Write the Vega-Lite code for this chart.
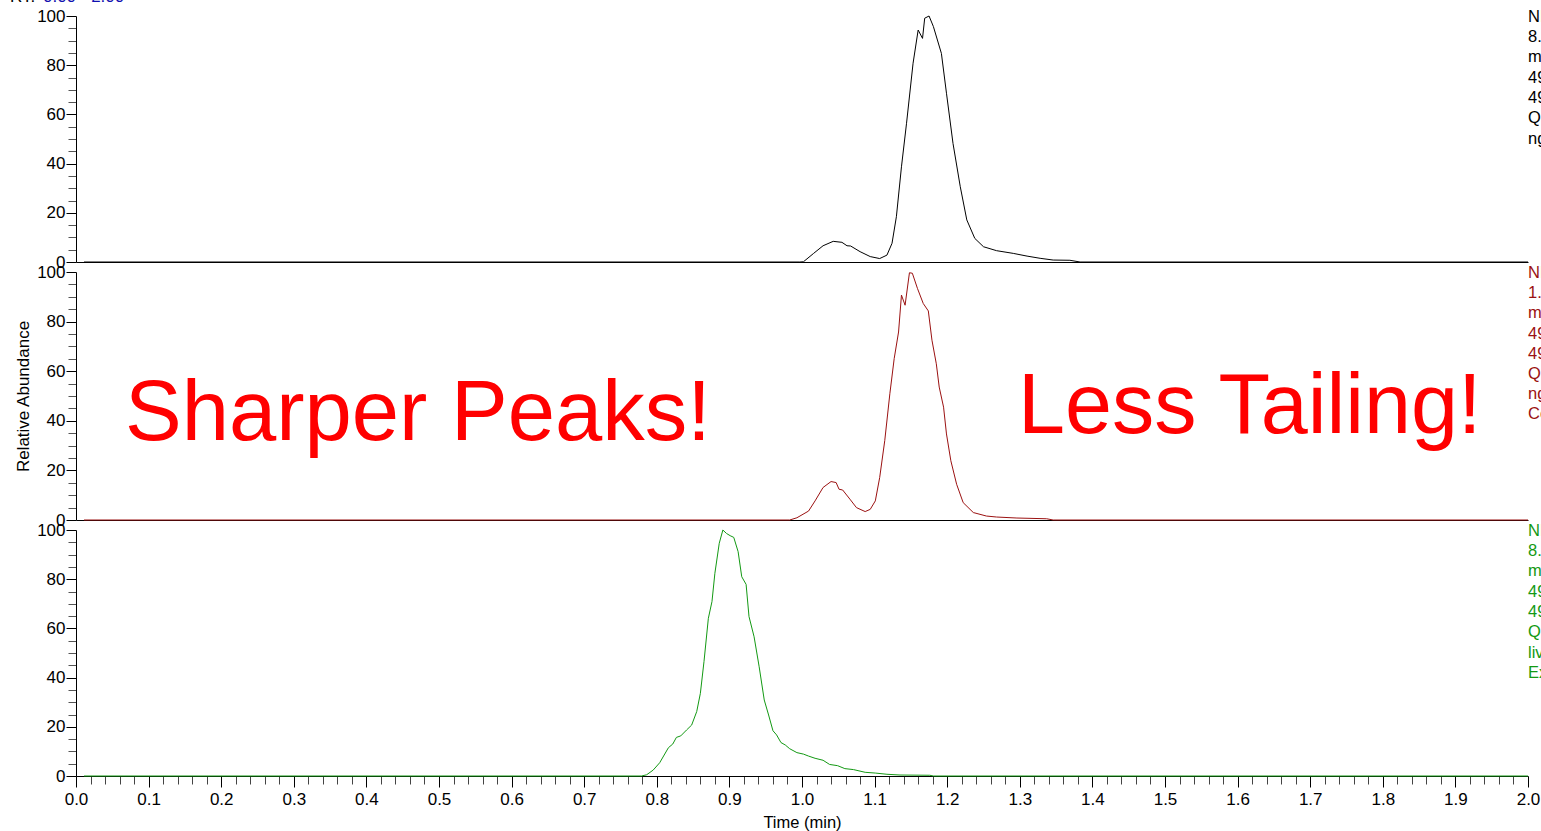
{
  "$schema": "https://vega.github.io/schema/vega-lite/v6.json",
  "padding": {"left": 10, "top": -13, "right": 0, "bottom": 0},
  "background": "white",
  "spacing": 10,
  "bounds": "flush",
  "config": {
    "view": {"stroke": null},
    "font": "Liberation Sans",
    "axis": {
      "labelFont": "Liberation Sans", "titleFont": "Liberation Sans",
      "labelColor": "#000", "titleColor": "#000", "domainColor": "#000",
      "grid": false, "labelFontSize": 17, "titleFontSize": 16.5,
      "titleFontWeight": "normal", "labelFlush": false, "labelOverlap": false
    }
  },
  "datasets": {
    "top": [
      {"t": 0.011, "v": 0}, {"t": 0.5, "v": 0}, {"t": 0.997, "v": 0}, {"t": 1.002, "v": 0.1},
      {"t": 1.016, "v": 3.5}, {"t": 1.029, "v": 6.6}, {"t": 1.043, "v": 8.4}, {"t": 1.055, "v": 8.0},
      {"t": 1.062, "v": 6.6}, {"t": 1.067, "v": 6.5}, {"t": 1.080, "v": 4.2}, {"t": 1.094, "v": 2.2},
      {"t": 1.107, "v": 1.4}, {"t": 1.117, "v": 2.8}, {"t": 1.124, "v": 7.6}, {"t": 1.130, "v": 18.4},
      {"t": 1.137, "v": 38.7}, {"t": 1.144, "v": 56.4}, {"t": 1.153, "v": 80.8}, {"t": 1.160, "v": 94.3},
      {"t": 1.166, "v": 90.9}, {"t": 1.169, "v": 99.1}, {"t": 1.175, "v": 100}, {"t": 1.181, "v": 95.7},
      {"t": 1.192, "v": 84.8}, {"t": 1.199, "v": 68.6}, {"t": 1.208, "v": 48.2}, {"t": 1.218, "v": 30.6},
      {"t": 1.227, "v": 17.1}, {"t": 1.238, "v": 9.6}, {"t": 1.250, "v": 6.2}, {"t": 1.268, "v": 4.6},
      {"t": 1.291, "v": 3.5}, {"t": 1.310, "v": 2.4}, {"t": 1.328, "v": 1.5}, {"t": 1.346, "v": 0.8},
      {"t": 1.369, "v": 0.7}, {"t": 1.383, "v": 0}, {"t": 2.0, "v": 0}
    ],
    "mid": [
      {"t": 0.011, "v": 0}, {"t": 0.5, "v": 0}, {"t": 0.983, "v": 0}, {"t": 0.993, "v": 0.9},
      {"t": 1.009, "v": 3.6}, {"t": 1.018, "v": 7.7}, {"t": 1.029, "v": 13.1}, {"t": 1.040, "v": 15.5},
      {"t": 1.047, "v": 15.1}, {"t": 1.051, "v": 12.4}, {"t": 1.056, "v": 12.1}, {"t": 1.066, "v": 8.4},
      {"t": 1.075, "v": 5.0}, {"t": 1.087, "v": 3.4}, {"t": 1.094, "v": 4.3}, {"t": 1.101, "v": 7.7},
      {"t": 1.107, "v": 17.1}, {"t": 1.114, "v": 32}, {"t": 1.121, "v": 50.9}, {"t": 1.127, "v": 65.1},
      {"t": 1.133, "v": 75.8}, {"t": 1.137, "v": 90.7}, {"t": 1.142, "v": 86.6}, {"t": 1.148, "v": 99.7},
      {"t": 1.152, "v": 99.5}, {"t": 1.159, "v": 93.4}, {"t": 1.167, "v": 87.3}, {"t": 1.174, "v": 84.3},
      {"t": 1.179, "v": 72.5}, {"t": 1.185, "v": 63.0}, {"t": 1.189, "v": 53.6}, {"t": 1.195, "v": 45.5},
      {"t": 1.199, "v": 34.7}, {"t": 1.205, "v": 23.9}, {"t": 1.213, "v": 14.4}, {"t": 1.222, "v": 7.0},
      {"t": 1.236, "v": 3.0}, {"t": 1.254, "v": 1.6}, {"t": 1.268, "v": 1.2}, {"t": 1.296, "v": 0.8},
      {"t": 1.337, "v": 0.5}, {"t": 1.346, "v": 0}, {"t": 2.0, "v": 0}
    ],
    "bot": [
      {"t": 0.011, "v": 0}, {"t": 0.5, "v": 0}, {"t": 0.779, "v": 0}, {"t": 0.786, "v": 0.5},
      {"t": 0.795, "v": 2.4}, {"t": 0.804, "v": 5.4}, {"t": 0.816, "v": 11.5}, {"t": 0.822, "v": 13.0},
      {"t": 0.827, "v": 15.7}, {"t": 0.833, "v": 16.3}, {"t": 0.841, "v": 18.7}, {"t": 0.848, "v": 20.7},
      {"t": 0.855, "v": 26.2}, {"t": 0.860, "v": 33.6}, {"t": 0.865, "v": 46.5}, {"t": 0.871, "v": 64.1},
      {"t": 0.876, "v": 70.9}, {"t": 0.880, "v": 82.4}, {"t": 0.886, "v": 94.6}, {"t": 0.891, "v": 100},
      {"t": 0.896, "v": 98.6}, {"t": 0.901, "v": 97.7}, {"t": 0.906, "v": 97.0}, {"t": 0.912, "v": 91.2},
      {"t": 0.917, "v": 81.0}, {"t": 0.923, "v": 77.9}, {"t": 0.927, "v": 64.8}, {"t": 0.934, "v": 56.6},
      {"t": 0.941, "v": 44.4}, {"t": 0.948, "v": 30.9}, {"t": 0.954, "v": 24.8}, {"t": 0.960, "v": 18.4},
      {"t": 0.965, "v": 16.7}, {"t": 0.971, "v": 13.6}, {"t": 0.977, "v": 12.6}, {"t": 0.983, "v": 11.1},
      {"t": 0.993, "v": 9.5}, {"t": 1.002, "v": 8.9}, {"t": 1.009, "v": 8.1}, {"t": 1.018, "v": 7.2},
      {"t": 1.029, "v": 6.4}, {"t": 1.038, "v": 4.7}, {"t": 1.049, "v": 4.2}, {"t": 1.059, "v": 3.0},
      {"t": 1.071, "v": 2.6}, {"t": 1.087, "v": 1.5}, {"t": 1.101, "v": 1.2}, {"t": 1.117, "v": 0.7},
      {"t": 1.135, "v": 0.4}, {"t": 1.176, "v": 0.3}, {"t": 1.181, "v": 0}, {"t": 2.0, "v": 0}
    ]
  },
  "vconcat": [
    {
      "width": 1452, "height": 246,
      "layer": [
        {
          "data": {"name": "top"},
          "mark": {"type": "line", "color": "#000000", "strokeWidth": 1},
          "encoding": {
            "x": {"field": "t", "type": "quantitative", "scale": {"domain": [0, 2], "nice": false},
                  "axis": {"title": null, "labels": false, "ticks": false, "domain": true}},
            "y": {"field": "v", "type": "quantitative", "scale": {"domain": [0, 100], "nice": false},
                  "axis": {"title": null, "tickCount": 50, "labelOverlap": false,
                           "values": [0,5,10,15,20,25,30,35,40,45,50,55,60,65,70,75,80,85,90,95,100],
                           "labelExpr": "datum.value % 20 === 0 ? datum.value : ''",
                           "tickSize": {"condition": {"test": "datum.value % 20 === 0", "value": 10}, "value": 8},
                           "tickColor": {"condition": {"test": "datum.value % 20 === 0", "value": "#000"}, "value": "#555"},
                           "labelPadding": 1}}
          }
        },
        {
          "data": {"values": [{"lines": ["NL:", "8.12E5", "m/z=", "494.25-", "494.35", "QE_MRM", "ng/mL"]}]},
          "mark": {"type": "text", "align": "left", "baseline": "alphabetic", "fontSize": 16.5, "lineHeight": 20.3, "color": "#000000"},
          "encoding": {
            "x": {"datum": 2, "type": "quantitative", "scale": {"domain": [0, 2], "nice": false}},
            "y": {"datum": 97.6, "type": "quantitative", "scale": {"domain": [0, 100], "nice": false}},
            "text": {"field": "lines"}
          }
        },
        {
          "data": {"values": [{"a": "RT:", "b": "0.00 - 2.00"}]},
          "mark": {"type": "text", "align": "left", "baseline": "alphabetic", "fontSize": 17, "color": "#000000"},
          "encoding": {
            "x": {"datum": -0.0909, "type": "quantitative", "scale": {"domain": [0, 2], "nice": false}},
            "y": {"datum": 105.7, "type": "quantitative", "scale": {"domain": [0, 100], "nice": false}},
            "text": {"field": "a"}
          }
        },
        {
          "data": {"values": [{"a": "RT:", "b": "0.00 - 2.00"}]},
          "mark": {"type": "text", "align": "left", "baseline": "alphabetic", "fontSize": 17, "color": "#1010b0"},
          "encoding": {
            "x": {"datum": -0.0455, "type": "quantitative", "scale": {"domain": [0, 2], "nice": false}},
            "y": {"datum": 105.7, "type": "quantitative", "scale": {"domain": [0, 100], "nice": false}},
            "text": {"field": "b"}
          }
        }
      ]
    },
    {
      "width": 1452, "height": 248,
      "layer": [
        {
          "data": {"name": "mid"},
          "mark": {"type": "line", "color": "#9b1111", "strokeWidth": 1},
          "encoding": {
            "x": {"field": "t", "type": "quantitative", "scale": {"domain": [0, 2], "nice": false},
                  "axis": {"title": null, "labels": false, "ticks": false, "domain": true}},
            "y": {"field": "v", "type": "quantitative", "scale": {"domain": [0, 100], "nice": false},
                  "axis": {"title": "Relative Abundance", "titlePadding": 4, "titleFontSize": 17,
                           "tickCount": 50, "labelOverlap": false,
                           "values": [0,5,10,15,20,25,30,35,40,45,50,55,60,65,70,75,80,85,90,95,100],
                           "labelExpr": "datum.value % 20 === 0 ? datum.value : ''",
                           "tickSize": {"condition": {"test": "datum.value % 20 === 0", "value": 10}, "value": 8},
                           "tickColor": {"condition": {"test": "datum.value % 20 === 0", "value": "#000"}, "value": "#555"},
                           "labelPadding": 1}}
          }
        },
        {
          "data": {"values": [{"lines": ["NL:", "1.45E6", "m/z=", "494.25-", "494.35", "QE_MRM", "ng/mL", "Column B"]}]},
          "mark": {"type": "text", "align": "left", "baseline": "alphabetic", "fontSize": 16.5, "lineHeight": 20.2, "color": "#9b1111"},
          "encoding": {
            "x": {"datum": 2, "type": "quantitative", "scale": {"domain": [0, 2], "nice": false}},
            "y": {"datum": 97.6, "type": "quantitative", "scale": {"domain": [0, 100], "nice": false}},
            "text": {"field": "lines"}
          }
        },
        {
          "data": {"values": [{"s": "Sharper Peaks!"}]},
          "mark": {"type": "text", "align": "left", "baseline": "alphabetic", "fontSize": 85, "color": "#ff0000"},
          "encoding": {
            "x": {"datum": 0.0675, "type": "quantitative", "scale": {"domain": [0, 2], "nice": false}},
            "y": {"datum": 32.4, "type": "quantitative", "scale": {"domain": [0, 100], "nice": false}},
            "text": {"field": "s"}
          }
        },
        {
          "data": {"values": [{"s": "Less Tailing!"}]},
          "mark": {"type": "text", "align": "left", "baseline": "alphabetic", "fontSize": 84.5, "color": "#ff0000"},
          "encoding": {
            "x": {"datum": 1.2975, "type": "quantitative", "scale": {"domain": [0, 2], "nice": false}},
            "y": {"datum": 35.2, "type": "quantitative", "scale": {"domain": [0, 100], "nice": false}},
            "text": {"field": "s"}
          }
        }
      ]
    },
    {
      "width": 1452, "height": 246,
      "layer": [
        {
          "data": {"name": "bot"},
          "mark": {"type": "line", "color": "#139913", "strokeWidth": 1},
          "encoding": {
            "x": {"field": "t", "type": "quantitative", "scale": {"domain": [0, 2], "nice": false},
                  "axis": {"title": "Time (min)", "titlePadding": 7, "labelPadding": 4,
                           "tickCount": 200, "labelOverlap": false,
                           "values": [0,0.02,0.04,0.06,0.08,0.1,0.12,0.14,0.16,0.18,0.2,0.22,0.24,0.26,0.28,0.3,0.32,0.34,0.36,0.38,0.4,0.42,0.44,0.46,0.48,0.5,0.52,0.54,0.56,0.58,0.6,0.62,0.64,0.66,0.68,0.7,0.72,0.74,0.76,0.78,0.8,0.82,0.84,0.86,0.88,0.9,0.92,0.94,0.96,0.98,1,1.02,1.04,1.06,1.08,1.1,1.12,1.14,1.16,1.18,1.2,1.22,1.24,1.26,1.28,1.3,1.32,1.34,1.36,1.38,1.4,1.42,1.44,1.46,1.48,1.5,1.52,1.54,1.56,1.58,1.6,1.62,1.64,1.66,1.68,1.7,1.72,1.74,1.76,1.78,1.8,1.82,1.84,1.86,1.88,1.9,1.92,1.94,1.96,1.98,2],
                           "labelExpr": "round(datum.value * 50) % 5 === 0 ? format(datum.value, '.1f') : ''",
                           "tickSize": {"condition": {"test": "round(datum.value * 50) % 5 === 0", "value": 11}, "value": 8},
                           "tickColor": {"condition": {"test": "round(datum.value * 50) % 5 === 0", "value": "#000"}, "value": "#444"}}},
            "y": {"field": "v", "type": "quantitative", "scale": {"domain": [0, 100], "nice": false},
                  "axis": {"title": null, "tickCount": 50, "labelOverlap": false,
                           "values": [0,5,10,15,20,25,30,35,40,45,50,55,60,65,70,75,80,85,90,95,100],
                           "labelExpr": "datum.value % 20 === 0 ? datum.value : ''",
                           "tickSize": {"condition": {"test": "datum.value % 20 === 0", "value": 10}, "value": 8},
                           "tickColor": {"condition": {"test": "datum.value % 20 === 0", "value": "#000"}, "value": "#555"},
                           "labelPadding": 1}}
          }
        },
        {
          "data": {"values": [{"lines": ["NL:", "8.30E5", "m/z=", "494.25-", "494.35", "QE_MRM", "liver", "Extract"]}]},
          "mark": {"type": "text", "align": "left", "baseline": "alphabetic", "fontSize": 16.5, "lineHeight": 20.3, "color": "#139913"},
          "encoding": {
            "x": {"datum": 2, "type": "quantitative", "scale": {"domain": [0, 2], "nice": false}},
            "y": {"datum": 97.6, "type": "quantitative", "scale": {"domain": [0, 100], "nice": false}},
            "text": {"field": "lines"}
          }
        }
      ]
    }
  ]
}
